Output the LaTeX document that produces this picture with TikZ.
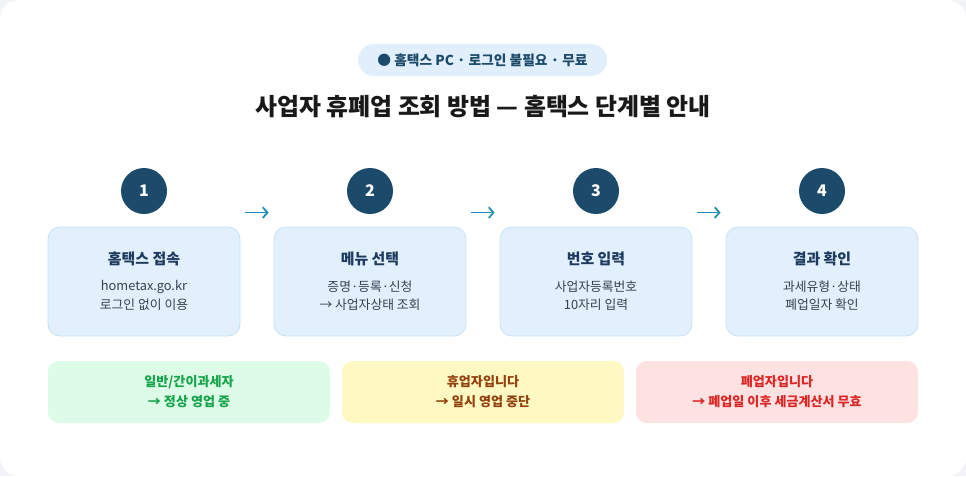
\documentclass[tikz,border=0pt]{standalone}
\usepackage{fontspec}
\setmainfont{Noto Sans CJK KR}
\usetikzlibrary{arrows.meta,positioning,calc}
\definecolor{pagebg}{HTML}{F1F3F6}
\definecolor{navy}{HTML}{1B4A6B}
\definecolor{titlenavy}{HTML}{1E3A5F}
\definecolor{bodygray}{HTML}{374151}
\definecolor{stepfill}{HTML}{E1F0FC}
\definecolor{stepline}{HTML}{C7E2F5}
\definecolor{pillfill}{HTML}{E0EFFB}
\definecolor{teal}{HTML}{1A8FB0}
\definecolor{okfill}{HTML}{DCFCE7}
\definecolor{oktext}{HTML}{16A34A}
\definecolor{pausefill}{HTML}{FEF9C3}
\definecolor{pausetext}{HTML}{92400E}
\definecolor{closefill}{HTML}{FEE2E2}
\definecolor{closetext}{HTML}{DC2626}

\begin{document}
\begin{tikzpicture}[x=0.75pt,y=-0.75pt,
  numdot/.style={circle,fill=navy,text=white,minimum size=34.5pt,inner sep=0pt,
    font=\fontsize{12}{14}\selectfont\bfseries},
  stepbox/.style={draw=stepline,fill=stepfill,rounded corners=9pt,line width=0.6pt,
    minimum width=144pt,minimum height=81.75pt,inner sep=0pt},
  steptitle/.style={text=titlenavy,font=\fontsize{11.2}{13}\selectfont\bfseries},
  stepline/.style={text=bodygray,font=\fontsize{9.6}{11}\selectfont},
  flowarrow/.style={teal,line width=1.3pt,-{Straight Barb[length=3.5pt,width=8pt]}},
  statebox/.style={rounded corners=8pt,minimum width=211.5pt,minimum height=46.5pt,
    inner sep=0pt,align=center,font=\fontsize{9.8}{15}\selectfont\bfseries}]
% page and card
\fill[pagebg] (0,0) rectangle (966,476);
\fill[white,rounded corners=14pt] (0,0) rectangle (966,476);
% badge and heading
\node[fill=pillfill,rounded corners=12pt,minimum width=186.75pt,minimum height=24pt,
  text=navy,font=\fontsize{10.3}{12}\selectfont\bfseries] (badge) at (482.5,60)
  {● 홈택스 PC · 로그인 불필요 · 무료};
\node[text=black!90,font=\fontsize{17.9}{21}\selectfont\bfseries] (heading) at (483,107)
  {사업자 휴폐업 조회 방법 — 홈택스 단계별 안내};
% four steps
\foreach \i/\t/\a/\b in {1/홈택스 접속/hometax.go.kr/로그인 없이 이용,
    2/메뉴 선택/증명·등록·신청/→ 사업자상태 조회,
    3/번호 입력/사업자등록번호/10자리 입력,
    4/결과 확인/과세유형·상태/폐업일자 확인} {
  \pgfmathsetmacro{\cx}{144+226*(\i-1)}
  \node[numdot] (n\i) at (\cx,191) {\i};
  \node[stepbox] (s\i) at (\cx,281.5) {};
  \node[steptitle] (t\i) at (\cx,259) {\t};
  \node[stepline] (a\i) at (\cx,287) {\a};
  \node[stepline] (b\i) at (\cx,305) {\b};
}
% arrows between the steps
\foreach \i/\j in {1/2,2/3,3/4} {
  \coordinate (p\i) at ($(s\i.north east)+(5,-14)$);
  \coordinate (q\i) at ($(s\j.north west)+(-5,-14)$);
  \draw[flowarrow] (p\i) -- (q\i);
}
% result states
\node[statebox,fill=okfill,text=oktext] (ok) at (189,392)
  {일반/간이과세자\\→ 정상 영업 중};
\node[statebox,fill=pausefill,text=pausetext] (pause) at (483,392)
  {휴업자입니다\\→ 일시 영업 중단};
\node[statebox,fill=closefill,text=closetext] (close) at (777,392)
  {폐업자입니다\\→ 폐업일 이후 세금계산서 무효};
\end{tikzpicture}
\end{document}
